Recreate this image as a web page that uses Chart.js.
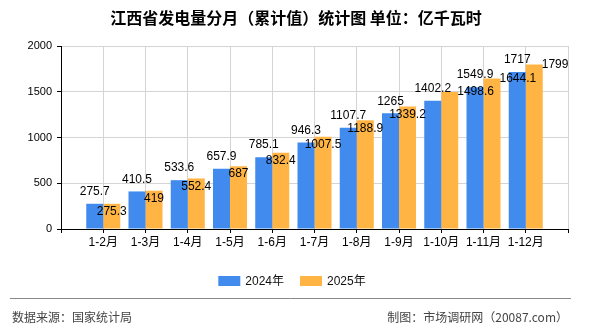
<!DOCTYPE html>
<html>
<head>
<meta charset="utf-8">
<script src="https://cdn.jsdelivr.net/npm/chart.js@4.4.1/dist/chart.umd.min.js"></script>
<style>
  html, body { margin: 0; padding: 0; background: #fff; }
  #wrap { width: 590px; height: 330px; position: relative; }
</style>
</head>
<body>
<div id="wrap"><canvas id="powerChart"></canvas></div>
<script>
// 数据
const categories = ['1-2月', '1-3月', '1-4月', '1-5月', '1-6月', '1-7月', '1-8月', '1-9月', '1-10月', '1-11月', '1-12月'];
const series2024 = [275.7, 410.5, 533.6, 657.9, 785.1, 946.3, 1107.7, 1265, 1402.2, 1549.9, 1717];
const series2025 = [275.3, 419, 552.4, 687, 832.4, 1007.5, 1188.9, 1339.2, 1498.6, 1644.1, 1799];
const seriesNames = ['2024年', '2025年'];
const yTicks = [0, 500, 1000, 1500, 2000];

const titleText = '江西省发电量分月（累计值）统计图 单位：亿千瓦时';
const sourceText = '数据来源：国家统计局';
const makerText = '制图：市场调研网（20087.com）';

const BLUE = '#418bee';
const ORANGE = '#ffb443';
const FONT = "'Liberation Sans', 'Noto Sans CJK SC', sans-serif";
const CJK = "'Noto Sans CJK SC', sans-serif";

// 两端留空位，让类别刻度落在刻度线上
const labels = [''].concat(categories, ['']);
const pad = arr => [null].concat(arr, [null]);

// 数值标签、标题、图例、页脚
const framePlugin = {
    id: 'frame',
    afterDatasetsDraw(chart) {
        const ctx = chart.ctx;
        ctx.save();
        ctx.font = '12px ' + FONT;
        ctx.fillStyle = '#000';
        ctx.textBaseline = 'middle';
        chart.data.datasets.forEach((ds, di) => {
            const meta = chart.getDatasetMeta(di);
            meta.data.forEach((bar, i) => {
                const v = ds.data[i];
                if (v === null) return;
                if (di === 0) {
                    ctx.textAlign = 'center';
                    ctx.fillText(String(v), bar.x, bar.y - 12);
                } else if (i >= 9) {
                    // 最后几个标签挪到柱子右侧
                    ctx.textAlign = 'left';
                    ctx.fillText(String(v), bar.x + bar.width / 2 - 1, bar.y);
                } else {
                    ctx.textAlign = 'center';
                    ctx.fillText(String(v), bar.x, bar.y + 8);
                }
            });
        });
        ctx.restore();
    },
    afterDraw(chart) {
        const ctx = chart.ctx;
        ctx.save();
        // 标题
        ctx.font = 'bold 16px ' + CJK;
        ctx.fillStyle = '#000';
        ctx.textAlign = 'center';
        ctx.textBaseline = 'middle';
        ctx.fillText(titleText, 296, 18);

        // 图例
        ctx.font = '12px ' + FONT;
        ctx.textAlign = 'left';
        const boxW = 22, boxH = 10, gap = 5, itemGap = 16;
        const widths = chart.data.datasets.map(ds => boxW + gap + ctx.measureText(ds.label).width);
        const total = widths.reduce((a, b) => a + b, 0) + itemGap * (widths.length - 1);
        let x = 292 - total / 2;
        const ly = 281;
        chart.data.datasets.forEach((ds, i) => {
            ctx.fillStyle = ds.backgroundColor;
            ctx.fillRect(x, ly - boxH / 2, boxW, boxH);
            ctx.fillStyle = '#111';
            ctx.fillText(ds.label, x + boxW + gap, ly + 1);
            x += widths[i] + itemGap;
        });

        // 页脚
        ctx.strokeStyle = '#888';
        ctx.lineWidth = 1;
        ctx.beginPath();
        ctx.moveTo(10, 298.5);
        ctx.lineTo(571, 298.5);
        ctx.stroke();
        ctx.font = '12px ' + CJK;
        ctx.fillStyle = '#444';
        ctx.textAlign = 'left';
        ctx.fillText(sourceText, 12, 317);
        ctx.textAlign = 'right';
        ctx.fillText(makerText, 568, 317);
        ctx.restore();
    }
};

const ctx = document.getElementById('powerChart').getContext('2d');
new Chart(ctx, {
    type: 'bar',
    data: {
        labels: labels,
        datasets: [
            { label: seriesNames[0], data: pad(series2024), backgroundColor: BLUE },
            { label: seriesNames[1], data: pad(series2025), backgroundColor: ORANGE }
        ]
    },
    options: {
        responsive: true,
        maintainAspectRatio: false,
        animation: false,
        events: [],
        layout: { padding: { left: 0, right: 22, top: 46, bottom: 61 } },
        datasets: { bar: { categoryPercentage: 0.805, barPercentage: 1 } },
        plugins: {
            legend: { display: false },
            title: { display: false },
            tooltip: { enabled: false }
        },
        scales: {
            x: {
                offset: false,
                afterFit: s => { s.height = 40; },
                grid: { offset: false, color: '#d4d4d4', tickColor: '#000', tickLength: 4 },
                border: { color: '#000', width: 1 },
                ticks: { color: '#000', font: { size: 12, family: FONT }, padding: 2, autoSkip: false, maxRotation: 0 }
            },
            y: {
                min: 0,
                max: 2000,
                afterFit: s => { s.width = 61; },
                afterBuildTicks: s => { s.ticks = yTicks.map(v => ({ value: v })); },
                grid: { color: '#d4d4d4', tickColor: '#000', tickLength: 4 },
                border: { color: '#000', width: 1 },
                ticks: {
                    color: '#000',
                    font: { size: 11, family: FONT },
                    padding: 5,
                    callback: v => String(v)
                }
            }
        }
    },
    plugins: [framePlugin]
});
</script>
</body>
</html>
